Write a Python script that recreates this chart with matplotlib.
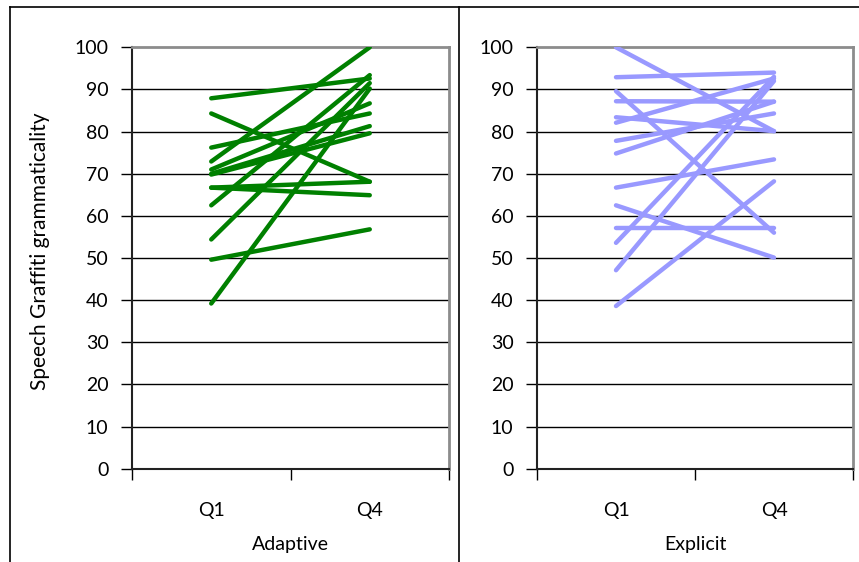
import matplotlib.pyplot as plt
from matplotlib.lines import Line2D

plt.rcParams['font.family'] = ['Lato', 'DejaVu Sans']

# data
categories = ['Q1', 'Q4']

adaptive_q1 = [87.9, 84.3, 76.2, 72.9, 71.0, 70.0, 69.8, 66.7, 66.7, 62.5, 54.4, 49.6, 39.2]
adaptive_q4 = [92.6, 68.1, 84.3, 100.0, 86.7, 81.3, 79.6, 68.1, 64.9, 93.4, 91.5, 56.8, 90.2]

explicit_q1 = [100.0, 92.9, 89.6, 87.2, 83.4, 82.1, 77.8, 74.8, 66.7, 62.5, 57.2, 53.6, 47.1, 38.6]
explicit_q4 = [80.1, 94.0, 56.0, 87.1, 80.1, 92.6, 84.3, 87.1, 73.4, 50.1, 57.2, 93.0, 92.0, 68.2]

yticks = list(range(0, 101, 10))

W, H = 859, 562
fig = plt.figure(figsize=(W / 100, H / 100), dpi=100)


def px(x0, y0, w, h):
    return [x0 / W, 1 - (y0 + h) / H, w / W, h / H]


def panel(rect, q1, q4, color, title):
    ax = fig.add_axes(rect)
    xs = [0.5, 1.5]
    for a, b in zip(q1, q4):
        ax.plot(xs, [a, b], color=color, lw=3.2, solid_capstyle='round', zorder=3)
    ax.set_xlim(0, 2)
    ax.set_ylim(0, 100)
    ax.set_yticks(yticks)
    ax.tick_params(axis='y', direction='out', length=8, width=1, pad=9,
                   labelsize=14, colors='black')
    for y in yticks[1:-1]:
        ax.axhline(y, color='black', lw=1, zorder=1)
    ax.set_xticks([0, 1, 2])
    ax.set_xticklabels([])
    ax.tick_params(axis='x', which='major', direction='out', length=8, width=1)
    ax.set_xticks(xs, minor=True)
    ax.set_xticklabels(categories, minor=True)
    ax.tick_params(axis='x', which='minor', length=0, pad=24, labelsize=14)
    ax.set_xlabel(title, fontsize=14, labelpad=12)
    for s in ['left', 'bottom']:
        ax.spines[s].set_color('#222222')
        ax.spines[s].set_linewidth(1.5)
    for s in ['top', 'right']:
        ax.spines[s].set_color('#8c8c8c')
        ax.spines[s].set_linewidth(2)
    return ax


panel(px(132, 47.3, 317, 421.4), adaptive_q1, adaptive_q4, '#008000', 'Adaptive')
panel(px(537, 47.3, 316, 421.4), explicit_q1, explicit_q4, '#9999ff', 'Explicit')

fig.text(40 / W, 1 - 251 / H, 'Speech Graffiti grammaticality', rotation=90,
         ha='center', va='center', fontsize=15)

# outer panel boxes
box = dict(color='black', lw=1.2, transform=fig.transFigure)
fig.add_artist(Line2D([10 / W, 1], [1 - 7 / H, 1 - 7 / H], **box))
fig.add_artist(Line2D([10 / W, 10 / W], [0, 1 - 7 / H], **box))
fig.add_artist(Line2D([459 / W, 459 / W], [0, 1 - 7 / H], **box))

fig.savefig('out.png', dpi=100)
